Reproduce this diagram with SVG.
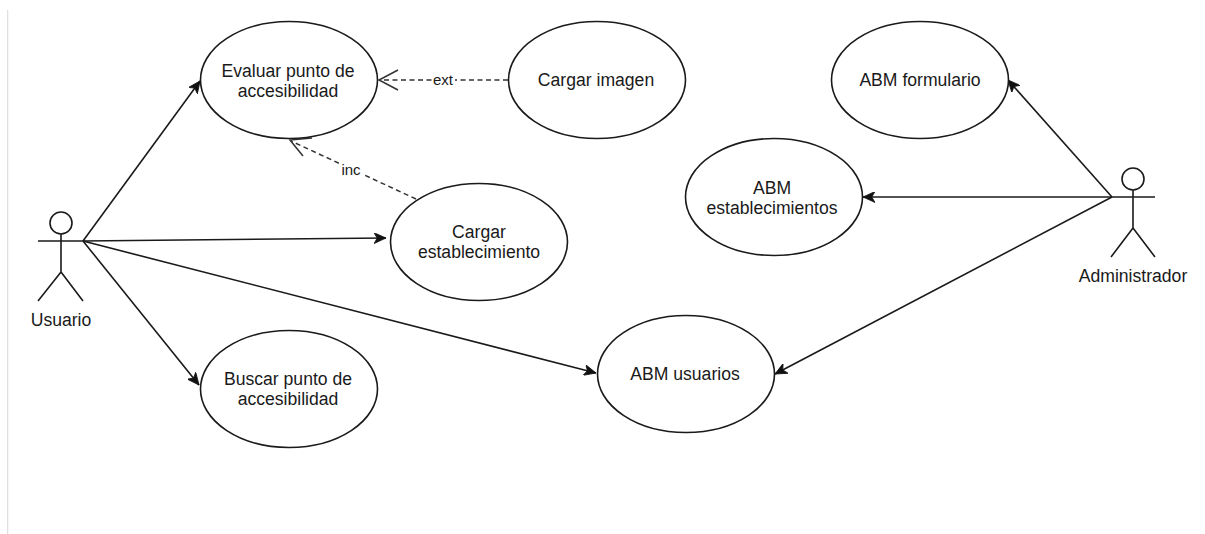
<svg xmlns="http://www.w3.org/2000/svg" width="1205" height="534" viewBox="0 0 1205 534">
<style>
.s{fill:none;stroke:#1a1a1a;stroke-width:1.6}
.e{fill:#fff;stroke:#1a1a1a;stroke-width:1.6}
.c{fill:none;stroke:#1a1a1a;stroke-width:1.6}
.d{fill:none;stroke:#333;stroke-width:1.5;stroke-dasharray:5 3.5}
.o{fill:none;stroke:#333;stroke-width:1.5}
text{font-family:"Liberation Sans",Arial,sans-serif;font-size:17.6px;fill:#1a1a1a;text-anchor:middle}
.l{font-size:15px}
</style>
<defs>
<marker id="a" viewBox="0 0 13 11" refX="12" refY="5.500" markerWidth="13" markerHeight="11" markerUnits="userSpaceOnUse" orient="auto"><path d="M0 0L12 5.500L0 11L3.200 5.500Z" fill="#111" stroke="#111" stroke-width="0.8"/></marker>
</defs>
<rect x="7" y="10" width="1.300" height="524" fill="#e0e0e0"/>
<g id="connectors">
<path class="c" marker-end="url(#a)" d="M83 241L200 81"/>
<path class="c" marker-end="url(#a)" d="M83 241L386 238"/>
<path class="c" marker-end="url(#a)" d="M83 241L596 373"/>
<path class="c" marker-end="url(#a)" d="M83 241L199 385"/>
<path class="c" marker-end="url(#a)" d="M1112 197L1008 80"/>
<path class="c" marker-end="url(#a)" d="M1112 197L863 197"/>
<path class="c" marker-end="url(#a)" d="M1112 197L775 374"/>
<path class="d" d="M508 80L380 80"/>
<path class="o" d="M398 70L379 80L398 90"/>
<path class="d" d="M416 199L291 141"/>
<path class="o" d="M303 156L290 140L312 138"/>
<rect x="432" y="72" width="23" height="16" fill="#fff"/>
<text class="l" x="443" y="85">ext</text>
<rect x="340" y="162" width="23" height="16" fill="#fff"/>
<text class="l" x="351" y="175">inc</text>
</g>
<g id="usuario">
<circle class="s" cx="61" cy="223" r="11"/>
<path class="s" d="M61 234V272M38 241H83M61 272L38 301M61 272L83 301"/>
<text x="61" y="326">Usuario</text>
</g>
<g id="administrador">
<circle class="s" cx="1133" cy="179" r="11"/>
<path class="s" d="M1133 190V228M1111 197H1155M1133 228L1111 257M1133 228L1155 257"/>
<text x="1133" y="282">Administrador</text>
</g>
<g id="evaluar"><ellipse class="e" cx="289" cy="80" rx="88.500" ry="58.500"/><text x="288" y="77">Evaluar punto de</text><text x="288" y="97">accesibilidad</text></g>
<g id="cargar-imagen"><ellipse class="e" cx="597" cy="80" rx="88.500" ry="58.500"/><text x="596" y="86">Cargar imagen</text></g>
<g id="cargar-establecimiento"><ellipse class="e" cx="479" cy="242" rx="88.500" ry="58.500"/><text x="479" y="238">Cargar</text><text x="479" y="258">establecimiento</text></g>
<g id="buscar"><ellipse class="e" cx="289" cy="389" rx="88.500" ry="58.500"/><text x="288" y="385">Buscar punto de</text><text x="288" y="405">accesibilidad</text></g>
<g id="abm-usuarios"><ellipse class="e" cx="686" cy="374" rx="88.500" ry="58.500"/><text x="685" y="380">ABM usuarios</text></g>
<g id="abm-formulario"><ellipse class="e" cx="920" cy="80" rx="88.500" ry="58.500"/><text x="920" y="86">ABM formulario</text></g>
<g id="abm-establecimientos"><ellipse class="e" cx="774" cy="197" rx="88.500" ry="58.500"/><text x="772" y="194">ABM</text><text x="772" y="214">establecimientos</text></g>
</svg>
